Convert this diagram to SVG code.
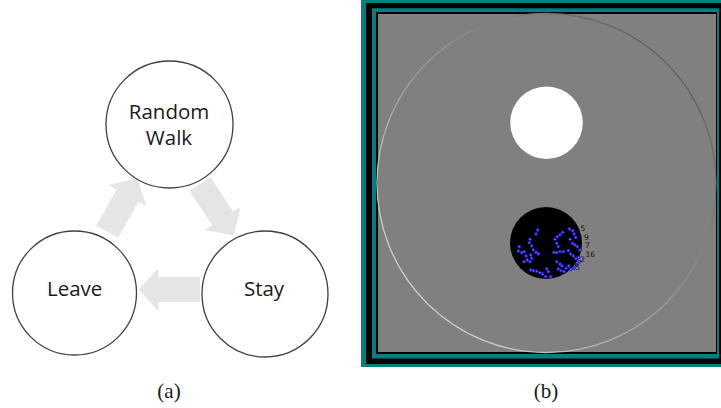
<svg xmlns="http://www.w3.org/2000/svg" width="721" height="408" viewBox="0 0 721 408">
<style>
.node circle{fill:#ffffff;stroke:#404040;stroke-width:1.3}
.lbl{font-family:"Open Sans","Noto Sans",sans-serif;font-size:20.5px;fill:#1a1a1a;text-anchor:middle}
.cap{font-family:"Liberation Serif","DejaVu Serif",serif;font-size:21px;fill:#1a1a1a;text-anchor:middle}
.arrow{fill:#e5e5e5}
.dot{fill:#6a6aff;stroke:#1414d0;stroke-width:1}
.num{font-family:"DejaVu Sans","Liberation Sans",sans-serif;font-size:7.5px;fill:#111111}
</style>
<defs>
<polygon id="blk" points="0,-12.5 41.5,-12.5 41.5,-21.5 61.5,0 41.5,21.5 41.5,12.5 0,12.5"/>
<linearGradient id="rim" x1="1" y1="0" x2="0" y2="1">
<stop offset="0" stop-color="#4a4a4a"/>
<stop offset="1" stop-color="#e8e8e8"/>
</linearGradient>
</defs>
<rect x="0" y="0" width="721" height="408" fill="#ffffff"/>
<g id="connectors" class="arrow">
<use href="#blk" transform="translate(200,183.8) rotate(56.8)"/>
<use href="#blk" transform="translate(200,289.4) rotate(180)"/>
<use href="#blk" transform="translate(107.2,231.7) rotate(-60.6)"/>
</g>
<g id="node-random-walk" class="node">
<circle cx="169.5" cy="124.5" r="63.5"/>
<text class="lbl" x="169" y="119">Random</text>
<text class="lbl" x="169" y="145">Walk</text>
</g>
<g id="node-leave" class="node">
<circle cx="74.5" cy="293" r="62"/>
<text class="lbl" x="74.7" y="296">Leave</text>
</g>
<g id="node-stay" class="node">
<circle cx="265" cy="294" r="63"/>
<text class="lbl" x="264" y="296">Stay</text>
</g>
<text class="cap" x="169" y="398">(a)</text>
<g id="panel-b">
<rect x="361" y="0" width="360" height="367" fill="#008080"/>
<rect x="366" y="3" width="355" height="361" fill="#000000"/>
<rect x="372" y="8.3" width="347" height="350.2" fill="#008080"/>
<rect x="376" y="12" width="341" height="342" fill="#000000"/>
<rect x="378" y="14" width="338" height="338" fill="#808080"/>
<circle cx="546.5" cy="183" r="169.5" fill="none" stroke="url(#rim)" stroke-width="1.3"/>
<circle cx="546.5" cy="122.7" r="36.3" fill="#ffffff"/>
<circle cx="546" cy="243" r="36" fill="#000000"/>
<g class="dot">
<circle cx="537.7" cy="230" r="1.4"/><circle cx="536" cy="234" r="1.4"/><circle cx="530" cy="239.3" r="1.4"/><circle cx="529.3" cy="242.7" r="1.4"/>
<circle cx="531.7" cy="246" r="1.4"/><circle cx="533.3" cy="250" r="1.4"/><circle cx="536" cy="252.3" r="1.4"/><circle cx="538.3" cy="254" r="1.4"/>
<circle cx="519.3" cy="246.7" r="1.4"/><circle cx="518.3" cy="251" r="1.4"/><circle cx="521.7" cy="252.7" r="1.4"/><circle cx="524" cy="251.7" r="1.4"/>
<circle cx="526" cy="256" r="1.4"/><circle cx="527.3" cy="260" r="1.4"/><circle cx="530" cy="261.7" r="1.4"/><circle cx="531.7" cy="258.3" r="1.4"/>
<circle cx="524" cy="261.7" r="1.4"/><circle cx="530.7" cy="255" r="1.4"/>
<circle cx="530.7" cy="270" r="1.4"/><circle cx="533.3" cy="270.7" r="1.4"/><circle cx="536.7" cy="271.3" r="1.4"/><circle cx="540" cy="272.7" r="1.4"/>
<circle cx="542.7" cy="274" r="1.4"/><circle cx="546.7" cy="269" r="1.4"/><circle cx="548.3" cy="271.7" r="1.4"/><circle cx="550.7" cy="276.7" r="1.4"/>
<circle cx="545.7" cy="276.7" r="1.4"/>
<circle cx="555" cy="239.3" r="1.4"/><circle cx="557.3" cy="236.7" r="1.4"/><circle cx="560" cy="234.7" r="1.4"/><circle cx="562.7" cy="232.3" r="1.4"/>
<circle cx="556.7" cy="243.3" r="1.4"/><circle cx="558.3" cy="246.7" r="1.4"/><circle cx="554" cy="252.3" r="1.4"/><circle cx="556.7" cy="252.7" r="1.4"/>
<circle cx="560" cy="251.7" r="1.4"/><circle cx="563.3" cy="251.7" r="1.4"/>
<circle cx="569.3" cy="229" r="1.4"/><circle cx="572.7" cy="230.7" r="1.4"/><circle cx="574" cy="234" r="1.4"/><circle cx="575.7" cy="237.3" r="1.4"/>
<circle cx="570" cy="239.3" r="1.4"/><circle cx="572.7" cy="243.3" r="1.4"/><circle cx="575" cy="245" r="1.4"/><circle cx="577.3" cy="246.7" r="1.4"/>
<circle cx="580" cy="250" r="1.4"/><circle cx="568.3" cy="250.7" r="1.4"/><circle cx="570.7" cy="254" r="1.4"/><circle cx="573.3" cy="256" r="1.4"/>
<circle cx="576" cy="258.7" r="1.4"/><circle cx="578.7" cy="257.3" r="1.4"/>
<circle cx="556.7" cy="261.7" r="1.4"/><circle cx="560" cy="264" r="1.4"/><circle cx="562" cy="266" r="1.4"/><circle cx="558.3" cy="269" r="1.4"/>
<circle cx="561" cy="270.7" r="1.4"/><circle cx="564" cy="271.7" r="1.4"/><circle cx="566" cy="268.3" r="1.4"/><circle cx="568.7" cy="266" r="1.4"/>
<circle cx="570.7" cy="269.3" r="1.4"/><circle cx="574" cy="268" r="1.4"/><circle cx="576.7" cy="265" r="1.4"/><circle cx="579.3" cy="261.7" r="1.4"/>
</g>
<g class="num">
<text x="580.5" y="231">5</text>
<text x="584" y="239.6">9</text>
<text x="585" y="248.2">7</text>
<text x="585.5" y="256.8">16</text>
<text x="580.3" y="261.5">2</text>
<text x="575.3" y="269.5">5</text>
</g>
</g>
<text class="cap" x="546" y="398">(b)</text>
</svg>
